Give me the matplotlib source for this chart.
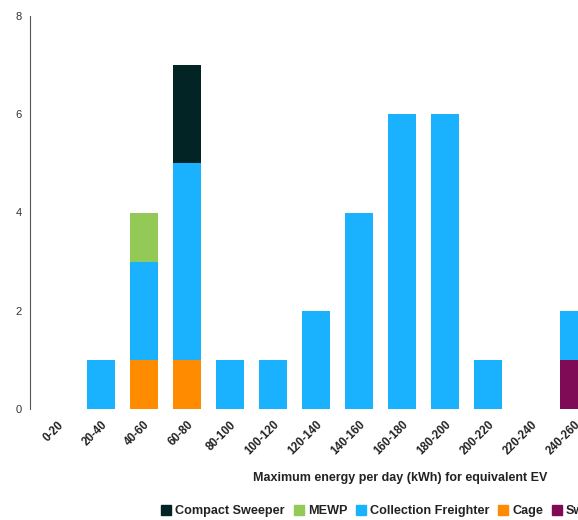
import matplotlib.pyplot as plt
import numpy as np
from matplotlib.lines import Line2D
from matplotlib.transforms import ScaledTranslation

plt.rcParams['font.family'] = ['Liberation Sans', 'DejaVu Sans']

# --- data ---
categories = ['0-20', '20-40', '40-60', '60-80', '80-100', '100-120', '120-140',
              '140-160', '160-180', '180-200', '200-220', '220-240', '240-260']
sweeper = [0, 0, 0, 0, 0, 0, 0, 0, 0, 0, 0, 0, 1]
cage = [0, 0, 1, 1, 0, 0, 0, 0, 0, 0, 0, 0, 0]
collection_freighter = [0, 1, 2, 4, 1, 1, 2, 4, 6, 6, 1, 0, 1]
mewp = [0, 0, 1, 0, 0, 0, 0, 0, 0, 0, 0, 0, 0]
compact_sweeper = [0, 0, 0, 2, 0, 0, 0, 0, 0, 0, 0, 0, 0]

# bottom -> top stacking
series = [
    ('Sweeper', sweeper, '#7f0a55'),
    ('Cage', cage, '#ff8c00'),
    ('Collection Freighter', collection_freighter, '#1ab2fe'),
    ('MEWP', mewp, '#93c956'),
    ('Compact Sweeper', compact_sweeper, '#022424'),
]
legend_order = ['Compact Sweeper', 'MEWP', 'Collection Freighter', 'Cage', 'Sweeper']

W, H = 578, 520
fig = plt.figure(figsize=(W / 100, H / 100), dpi=100)
# axes deliberately runs past the right edge (reference is cropped)
ax_left, ax_right = 30, 617
ax_bot, ax_top = 409, 16
ax = fig.add_axes([ax_left / W, 1 - ax_bot / H, (ax_right - ax_left) / W, (ax_bot - ax_top) / H])

x = np.arange(len(categories))
bottom = np.zeros(len(categories))
for name, vals, col in series:
    ax.bar(x, vals, width=0.65, bottom=bottom, color=col, label=name)
    bottom += np.array(vals)

ax.set_xlim(-0.651, 13.0)
ax.set_ylim(0, 8)
ax.set_yticks([0, 2, 4, 6, 8])
ax.tick_params(axis='y', length=0, labelsize=8, labelcolor='#333333', pad=6)
ax.set_xticks(x)
ax.set_xticklabels(categories, rotation=45, ha='right', va='top',
                   rotation_mode='anchor', fontsize=8.3, fontweight='bold', color='#222222')
offset = ScaledTranslation(11 / 100, 0, fig.dpi_scale_trans)
for lbl in ax.get_xticklabels():
    lbl.set_transform(lbl.get_transform() + offset)
ax.tick_params(axis='x', length=0, pad=7)
for s in ['top', 'right', 'bottom']:
    ax.spines[s].set_visible(False)
ax.spines['left'].set_color('#555555')
ax.spines['left'].set_linewidth(0.8)

fig.text(400 / W, 1 - 478 / H, 'Maximum energy per day (kWh) for equivalent EV',
         ha='center', va='center', fontsize=9, fontweight='bold', color='#222222')

colmap = {n: c for n, _, c in series}
handles = [Line2D([0], [0], marker='s', color='w', markerfacecolor=colmap[n],
                  markeredgecolor=colmap[n], markersize=7.5, label=n) for n in legend_order]
leg = fig.legend(handles=handles, loc='center left', bbox_to_anchor=(150 / W, 1 - 511 / H),
                 ncol=5, frameon=False, handlelength=0.8, handletextpad=0.3,
                 columnspacing=0.7, prop={'weight': 'bold', 'size': 9.1})
for t in leg.get_texts():
    t.set_color('#222222')

fig.savefig('out.png', dpi=100)
